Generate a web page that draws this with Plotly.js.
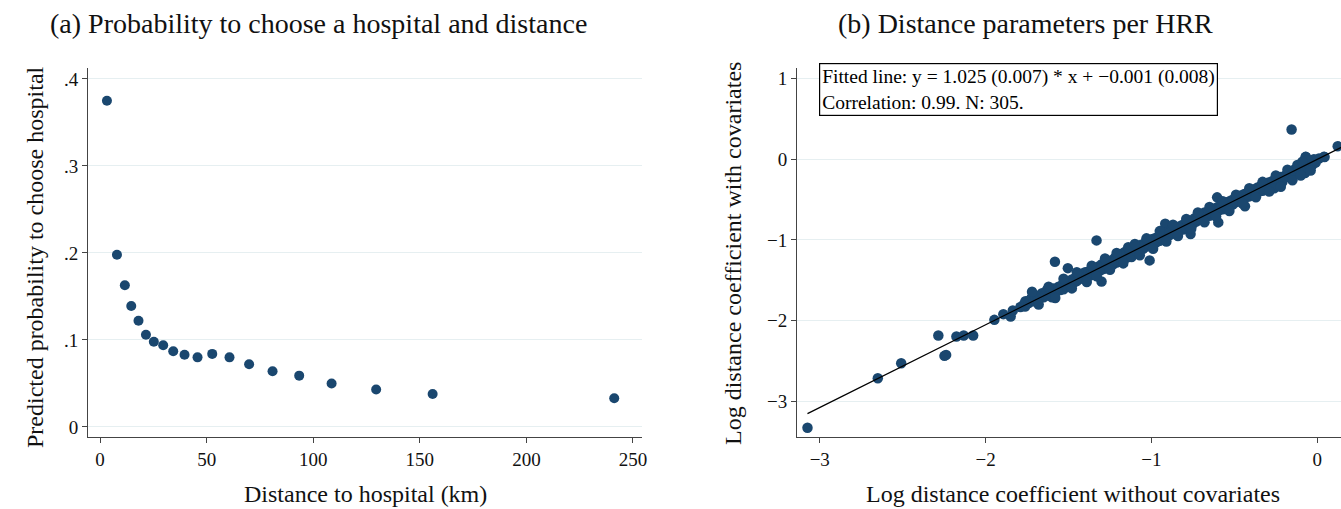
<!DOCTYPE html>
<html>
<head>
<meta charset="utf-8">
<script src="https://cdn.plot.ly/plotly-3.0.1.min.js"></script>
<style>html,body{margin:0;padding:0;background:#fff;}#chart{width:1341px;height:509px;}</style>
</head>
<body>
<div id="chart"></div>
<script>
// ---- Panel (a): probability to choose a hospital vs distance ----
const distKm = [3.2, 7.9, 11.6, 14.6, 18.0, 21.5, 25.2, 29.6, 34.3, 39.6, 45.7, 52.6, 60.7, 69.9, 80.9, 93.4, 108.6, 129.5, 156.0, 241.2];
const probChoose = [0.375, 0.198, 0.163, 0.139, 0.122, 0.106, 0.098, 0.094, 0.087, 0.083, 0.080, 0.084, 0.080, 0.072, 0.064, 0.059, 0.050, 0.043, 0.038, 0.033];
const probTickVals = [0, 0.1, 0.2, 0.3, 0.4];
const probTickText = ["0", ".1", ".2", ".3", ".4"];
const distTickVals = [0, 50, 100, 150, 200, 250];

// ---- Panel (b): log distance coefficients per HRR ----
const logCoefNoCov = [
 -3.074,-2.650,-2.509,-2.285,-2.248,-2.238,-2.176,-2.132,-2.075,-1.947,-1.893,-1.849,-1.836,-1.762,-1.750,-1.730,
 -1.582,-1.504,-1.331,-1.301,-1.011,-0.917,-0.764,-0.597,-0.436,-0.155,0.123,0.044,-0.069,-0.074,-0.604,
 -1.79,-1.77,-1.76,-1.74,-1.73,-1.72,-1.71,-1.70,-1.69,-1.68,-1.67,-1.66,-1.65,-1.64,-1.63,-1.62,-1.61,-1.60,-1.59,-1.58,-1.57,-1.56,-1.55,
 -1.54,-1.53,-1.52,-1.51,-1.50,-1.49,-1.48,-1.47,-1.46,-1.45,-1.44,-1.43,-1.42,-1.41,-1.40,-1.39,-1.38,-1.37,-1.36,-1.35,
 -1.34,-1.33,-1.32,-1.31,-1.30,-1.29,-1.28,-1.27,-1.26,-1.25,-1.24,-1.23,-1.22,-1.21,-1.20,-1.19,-1.18,-1.17,-1.16,-1.15,-1.14,-1.13,-1.12,-1.11,-1.10,
 -1.30,-1.25,-1.20,-1.16,-1.13,-1.27,-1.22,-1.18,-1.12,-1.24,
 -1.09,-1.08,-1.07,-1.06,-1.05,-1.04,-1.03,-1.02,-1.01,-1.00,-0.99,-0.98,-0.97,-0.96,-0.95,-0.94,-0.93,-0.92,-0.91,-0.90,
 -0.89,-0.88,-0.87,-0.86,-0.85,-0.84,-0.83,-0.82,-0.81,-0.80,
 -1.05,-0.98,-0.92,-0.86,-1.02,-0.95,-0.89,-0.83,
 -0.79,-0.78,-0.77,-0.76,-0.75,-0.74,-0.73,-0.72,-0.71,-0.70,-0.69,-0.68,-0.67,-0.66,-0.65,-0.64,-0.63,-0.62,-0.61,-0.60,
 -0.59,-0.58,-0.57,-0.56,-0.55,-0.54,-0.53,-0.52,-0.51,-0.50,
 -0.75,-0.70,-0.66,-0.62,-0.58,-0.54,-0.72,-0.64,-0.56,-0.52,
 -0.49,-0.48,-0.47,-0.46,-0.45,-0.44,-0.43,-0.42,-0.41,-0.40,-0.39,-0.38,-0.37,-0.36,-0.35,-0.34,-0.33,-0.32,-0.31,-0.30,
 -0.29,-0.28,-0.27,-0.26,-0.25,-0.24,-0.23,-0.22,-0.21,-0.20,
 -0.45,-0.40,-0.36,-0.32,-0.28,-0.24,-0.30,-0.26,-0.34,-0.42,-0.38,-0.22,
 -0.19,-0.18,-0.17,-0.16,-0.15,-0.14,-0.13,-0.12,-0.11,-0.10,-0.09,-0.08,-0.07,-0.06,-0.05,-0.04,-0.03,-0.02,-0.01,0.01,
 -0.17,-0.14,-0.11,-0.08,-0.05,-0.07,-0.03,0.04,
 -1.72,-1.68,-1.62,-1.58,-1.53,-1.48,-1.45,-1.39,-1.36,-1.33,-1.28,-1.25,-1.21,-1.17,-1.14,-1.10,-1.07,-1.03,-0.99,-0.95,
 -0.91,-0.87,-0.84,-0.79,-0.76,-0.72,-0.68,-0.65,-0.61,-0.57,-0.53,-0.49,-0.45,-0.41,-0.37,-0.33,-0.29,-0.25,-0.22,-0.18,
 -0.15,-0.12,-0.10,-0.06,-0.04,-0.09
];
const logCoefWithCov = [
 -3.326,-2.714,-2.527,-2.184,-2.436,-2.424,-2.197,-2.184,-2.184,-1.990,-1.919,-1.948,-1.874,-1.824,-1.770,-1.741,
 -1.270,-1.349,-1.005,-1.514,-1.253,-0.798,-0.927,-0.782,-0.583,0.368,0.161,0.029,0.029,-0.170,-0.472,
 -1.83,-1.80,-1.76,-1.78,-1.74,-1.71,-1.76,-1.72,-1.69,-1.74,-1.70,-1.66,-1.71,-1.68,-1.62,-1.69,-1.64,-1.71,-1.60,-1.66,-1.63,-1.58,-1.62,
 -1.56,-1.61,-1.55,-1.58,-1.52,-1.57,-1.49,-1.53,-1.47,-1.51,-1.44,-1.48,-1.42,-1.47,-1.40,-1.45,-1.39,-1.44,-1.37,-1.41,
 -1.35,-1.40,-1.33,-1.38,-1.30,-1.36,-1.29,-1.34,-1.27,-1.32,-1.25,-1.30,-1.22,-1.28,-1.20,-1.26,-1.17,-1.23,-1.15,-1.22,-1.14,-1.19,-1.12,-1.18,-1.10,
 -1.34,-1.28,-1.24,-1.19,-1.16,-1.31,-1.26,-1.21,-1.21,-1.29,
 -1.14,-1.07,-1.13,-1.06,-1.11,-1.04,-1.08,-1.02,-1.07,-0.99,-1.05,-0.98,-1.03,-0.96,-1.01,-0.94,-0.99,-0.92,-0.97,-0.90,
 -0.94,-0.87,-0.92,-0.86,-0.90,-0.84,-0.88,-0.82,-0.87,-0.80,
 -1.08,-1.01,-0.95,-0.89,-1.05,-0.97,-0.91,-0.85,
 -0.85,-0.78,-0.83,-0.76,-0.80,-0.73,-0.77,-0.71,-0.75,-0.69,-0.74,-0.66,-0.71,-0.65,-0.70,-0.63,-0.67,-0.61,-0.66,-0.59,
 -0.63,-0.57,-0.62,-0.55,-0.60,-0.53,-0.58,-0.51,-0.56,-0.49,
 -0.77,-0.72,-0.68,-0.64,-0.60,-0.56,-0.74,-0.66,-0.58,-0.54,
 -0.53,-0.47,-0.51,-0.45,-0.50,-0.43,-0.47,-0.42,-0.46,-0.40,-0.44,-0.37,-0.42,-0.35,-0.40,-0.33,-0.39,-0.32,-0.37,-0.29,
 -0.36,-0.28,-0.34,-0.26,-0.33,-0.24,-0.31,-0.22,-0.28,-0.21,
 -0.47,-0.42,-0.38,-0.35,-0.31,-0.27,-0.38,-0.36,-0.37,-0.44,-0.40,-0.25,
 -0.22,-0.17,-0.21,-0.15,-0.19,-0.13,-0.17,-0.11,-0.15,-0.09,-0.14,-0.07,-0.13,-0.04,-0.09,-0.02,-0.07,0.00,-0.04,0.01,
 -0.18,-0.16,-0.12,-0.10,-0.06,0.03,-0.02,0.03,
 -1.64,-1.80,-1.58,-1.72,-1.48,-1.60,-1.40,-1.52,-1.32,-1.45,-1.23,-1.37,-1.16,-1.29,-1.09,-1.05,-1.19,-0.98,-1.11,-0.89,
 -1.02,-0.81,-0.95,-0.74,-0.86,-0.66,-0.78,-0.59,-0.71,-0.52,-0.64,-0.44,-0.55,-0.36,-0.47,-0.28,-0.40,-0.20,-0.34,-0.13,
 -0.26,-0.07,-0.20,-0.01,-0.14,-0.03
];
// Fitted regression line reported in the chart
const fitSlope = 1.025;
const fitIntercept = -0.001;
const fitXEnds = [-3.074, 0.2];
const logTickVals = [-3, -2, -1, 0, 1];
const logTickText = ["\u22123", "\u22122", "\u22121", "0", "1"];

const FONT = "Liberation Serif, Times New Roman, serif";
const NAVY = "#1a476f";
const AXC = "#444444";
const GRID = "#e6eff1";

const traces = [
  {x: distKm, y: probChoose, type: "scatter", mode: "markers", xaxis: "x", yaxis: "y",
   marker: {color: NAVY, size: 10}, hoverinfo: "x+y"},
  {x: logCoefNoCov, y: logCoefWithCov, type: "scatter", mode: "markers", xaxis: "x2", yaxis: "y2",
   marker: {color: NAVY, size: 10.5}, hoverinfo: "x+y"},
  {x: fitXEnds, y: fitXEnds.map(v => fitSlope * v + fitIntercept), type: "scatter", mode: "lines",
   xaxis: "x2", yaxis: "y2", line: {color: "#000", width: 1.2}, hoverinfo: "skip"}
];

const axisCommon = {
  showline: true, linecolor: AXC, linewidth: 1, ticks: "outside", ticklen: 5, tickcolor: AXC,
  tickfont: {family: FONT, size: 19, color: "#111"}, zeroline: false, mirror: false
};

const layout = {
  width: 1341, height: 509, margin: {l: 0, r: 0, t: 0, b: 0},
  paper_bgcolor: "#fff", plot_bgcolor: "#fff", showlegend: false,
  font: {family: FONT, color: "#111"},
  xaxis: Object.assign({}, axisCommon, {domain: [0.0656, 0.4787], range: [-5.7, 254.2],
    tickvals: distTickVals, showgrid: false, anchor: "y"}),
  yaxis: Object.assign({}, axisCommon, {domain: [0.1415, 0.8664], range: [-0.0115, 0.4126],
    tickvals: probTickVals, ticktext: probTickText, showgrid: true, gridcolor: GRID, gridwidth: 1, anchor: "x"}),
  xaxis2: Object.assign({}, axisCommon, {domain: [0.5943, 1.0], range: [-3.1375, 0.143],
    tickvals: logTickVals, ticktext: logTickText, showgrid: false, anchor: "y2"}),
  yaxis2: Object.assign({}, axisCommon, {domain: [0.1415, 0.8664], range: [-3.441, 1.131],
    tickvals: logTickVals, ticktext: logTickText, showgrid: true, gridcolor: GRID, gridwidth: 1, anchor: "x2"}),
  annotations: [
    {text: "(a) Probability to choose a hospital and distance", xref: "paper", yref: "paper",
     x: 318 / 1341, y: 1 - 23 / 509, xanchor: "center", yanchor: "middle", showarrow: false,
     font: {family: FONT, size: 28, color: "#111"}},
    {text: "(b) Distance parameters per HRR", xref: "paper", yref: "paper",
     x: 1025 / 1341, y: 1 - 23 / 509, xanchor: "center", yanchor: "middle", showarrow: false,
     font: {family: FONT, size: 28, color: "#111"}},
    {text: "Distance to hospital (km)", xref: "paper", yref: "paper",
     x: 365 / 1341, y: 1 - 494 / 509, xanchor: "center", yanchor: "middle", showarrow: false,
     font: {family: FONT, size: 24, color: "#111"}},
    {text: "Predicted probability to choose hospital", xref: "paper", yref: "paper", textangle: -90,
     x: 35 / 1341, y: 1 - 257 / 509, xanchor: "center", yanchor: "middle", showarrow: false,
     font: {family: FONT, size: 24, color: "#111"}},
    {text: "Log distance coefficient without covariates", xref: "paper", yref: "paper",
     x: 1073 / 1341, y: 1 - 494 / 509, xanchor: "center", yanchor: "middle", showarrow: false,
     font: {family: FONT, size: 24, color: "#111"}},
    {text: "Log distance coefficient with covariates", xref: "paper", yref: "paper", textangle: -90,
     x: 733 / 1341, y: 1 - 254 / 509, xanchor: "center", yanchor: "middle", showarrow: false,
     font: {family: FONT, size: 24, color: "#111"}},
    {text: "Fitted line: y = 1.025 (0.007) * x + \u22120.001 (0.008)<br>Correlation: 0.99. N: 305.",
     xref: "paper", yref: "paper", x: 819 / 1341, y: 1 - 63 / 509, xanchor: "left", yanchor: "top",
     align: "left", showarrow: false, bordercolor: "#000", borderwidth: 1.2, borderpad: 2, bgcolor: "#fff",
     font: {family: FONT, size: 19.5, color: "#000"}}
  ]
};

Plotly.newPlot("chart", traces, layout, {displayModeBar: false, staticPlot: true});
</script>
</body>
</html>
